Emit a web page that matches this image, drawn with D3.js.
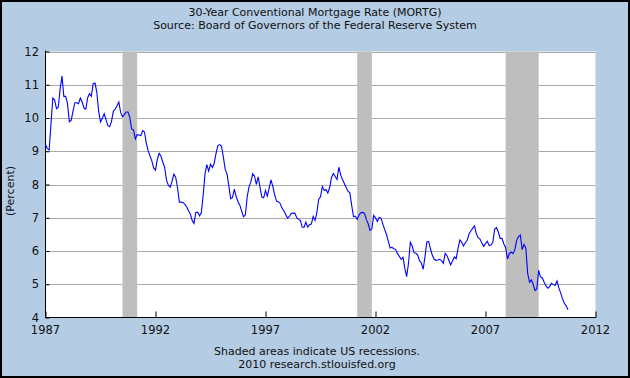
<!DOCTYPE html>
<html><head><meta charset="utf-8">
<script src="https://cdn.jsdelivr.net/npm/d3@7"></script>
<style>body{margin:0;padding:0;background:#fff}svg{display:block}text{font-family:"DejaVu Sans",Verdana,sans-serif;fill:#111}</style>
</head><body>
<svg id="c" width="630" height="378"></svg>
<script>
const title = "30-Year Conventional Mortgage Rate (MORTG)";
const subtitle = "Source: Board of Governors of the Federal Reserve System";
const footer1 = "Shaded areas indicate US recessions.";
const footer2 = "2010 research.stlouisfed.org";
const yLabel = "(Percent)";
const startYear = 1987;
const yTicks = [4,5,6,7,8,9,10,11,12];
const xTicks = [1987,1992,1997,2002,2007,2012];
const recessions = [[1990.5,1991.167],[2001.167,2001.833],[2007.917,2009.417]];
// monthly values Jan 1987 .. Oct 2010
const rates = [
 9.20,9.08,9.04,9.83,10.60,10.54,10.28,10.33,10.89,11.26,10.65,10.65,
 10.43,9.89,9.93,10.20,10.46,10.46,10.43,10.60,10.48,10.30,10.27,10.61,
 10.73,10.65,11.03,11.05,10.77,10.20,9.88,9.99,10.13,9.95,9.77,9.74,
 9.90,10.20,10.27,10.37,10.48,10.16,10.04,10.10,10.18,10.18,10.01,9.67,
 9.64,9.37,9.50,9.49,9.47,9.62,9.58,9.24,9.01,8.86,8.71,8.50,
 8.43,8.76,8.94,8.85,8.67,8.51,8.13,7.98,7.92,8.09,8.31,8.22,
 7.91,7.47,7.47,7.46,7.40,7.33,7.21,7.11,6.92,6.83,7.16,7.17,
 7.06,7.15,7.68,8.32,8.60,8.40,8.61,8.51,8.64,8.93,9.17,9.20,
 9.15,8.83,8.46,8.32,7.96,7.57,7.61,7.86,7.64,7.48,7.38,7.20,
 7.03,7.08,7.62,7.93,8.07,8.32,8.25,8.00,8.23,7.92,7.62,7.60,
 7.82,7.65,7.90,8.14,7.94,7.69,7.50,7.48,7.43,7.29,7.21,7.10,
 6.99,7.04,7.13,7.14,7.14,7.00,6.95,6.92,6.72,6.71,6.87,6.72,
 6.79,6.81,7.04,6.92,7.15,7.55,7.63,7.94,7.82,7.85,7.74,7.91,
 8.21,8.33,8.24,8.15,8.52,8.29,8.15,8.03,7.91,7.80,7.75,7.38,
 7.03,7.05,6.95,7.08,7.15,7.16,7.13,6.95,6.82,6.62,6.66,7.07,
 7.00,6.89,7.01,6.99,6.81,6.65,6.49,6.29,6.09,6.11,6.07,6.05,
 5.92,5.84,5.75,5.81,5.48,5.23,5.63,6.26,6.15,5.95,5.93,5.88,
 5.71,5.64,5.45,5.83,6.27,6.29,6.06,5.87,5.75,5.72,5.73,5.75,
 5.71,5.63,5.93,5.86,5.72,5.58,5.70,5.82,5.77,6.07,6.33,6.27,
 6.15,6.25,6.32,6.51,6.60,6.68,6.76,6.52,6.40,6.36,6.24,6.14,
 6.22,6.29,6.16,6.18,6.26,6.66,6.70,6.57,6.38,6.38,6.21,6.10,
 5.76,5.92,5.97,5.92,6.04,6.32,6.43,6.48,6.04,6.20,6.09,5.33,
 5.06,5.13,5.00,4.81,4.86,5.42,5.22,5.19,5.06,4.95,4.88,4.93,
 5.03,4.99,4.97,5.10,4.89,4.74,4.56,4.43,4.35,4.23
];

const svg = d3.select("#c");
const W = 630, H = 378;
const L = 45.5, R = 595.5, T = 51.5, B = 317.5;
svg.append("rect").attr("x",0).attr("y",0).attr("width",W).attr("height",H).attr("fill","#b4cce4");
svg.append("rect").attr("x",1).attr("y",1).attr("width",W-2).attr("height",H-2).attr("fill","none").attr("stroke","#000").attr("stroke-width",2);

const x = d3.scaleLinear().domain([1987,2012]).range([L,R]);
const y = d3.scaleLinear().domain([4,12]).range([B,T]);

svg.append("rect").attr("x",L).attr("y",T).attr("width",R-L).attr("height",B-T).attr("fill","#fff");
svg.selectAll(".rec").data(recessions).enter().append("rect")
  .attr("x",d=>x(d[0])).attr("y",T).attr("width",d=>x(d[1])-x(d[0])).attr("height",B-T).attr("fill","#bebebe");

// gridlines (skip where recession bars)
const gridG = svg.append("g");
yTicks.filter(v=>v>4).forEach(v=>{
  let segs=[]; let s=L;
  recessions.forEach(r=>{segs.push([s,x(r[0])]); s=x(r[1]);});
  segs.push([s,R]);
  segs.forEach(sg=>gridG.append("line").attr("x1",sg[0]).attr("x2",sg[1]).attr("y1",Math.round(y(v))+0.5).attr("y2",Math.round(y(v))+0.5).attr("stroke","#aaaaaa").attr("stroke-width",1));
});

// axes
const yAxis = d3.axisRight(y).tickValues(yTicks).tickSize(4).tickFormat("");
svg.append("g").attr("transform",`translate(${L},0)`).call(yAxis).call(g=>{g.select(".domain").remove();g.selectAll("line").attr("stroke","#000");});
svg.append("line").attr("x1",L).attr("x2",L).attr("y1",T-1).attr("y2",B).attr("stroke","#000");
svg.selectAll(".yl").data(yTicks).enter().append("text").attr("x",39).attr("y",d=>y(d)+4).attr("text-anchor","end").attr("font-size","11.5px").text(d=>d);

const xAxis = d3.axisTop(x).tickValues(xTicks).tickSize(6).tickFormat("");
svg.append("g").attr("transform",`translate(0,${B})`).call(xAxis).call(g=>{g.select(".domain").remove();g.selectAll("line").attr("stroke","#000");});
svg.append("line").attr("x1",L).attr("x2",R+0.5).attr("y1",B).attr("y2",B).attr("stroke","#000");
svg.selectAll(".xl").data(xTicks).enter().append("text").attr("x",d=>x(d)).attr("y",334).attr("text-anchor","middle").attr("font-size","11.5px").text(d=>d);

// line
const line = d3.line().x((d,i)=>x(startYear+i/12)).y(d=>y(d));
svg.append("path").datum(rates).attr("d",line).attr("fill","none").attr("stroke","#0000ff").attr("stroke-width",1.1);

// texts
svg.append("text").attr("x",315).attr("y",16).attr("text-anchor","middle").attr("font-size","11px").text(title);
svg.append("text").attr("x",315).attr("y",29).attr("text-anchor","middle").attr("font-size","11px").text(subtitle);
svg.append("text").attr("x",317).attr("y",355).attr("text-anchor","middle").attr("font-size","11px").text(footer1);
svg.append("text").attr("x",317).attr("y",368).attr("text-anchor","middle").attr("font-size","11px").text(footer2);
svg.append("text").attr("transform","translate(14,191) rotate(-90)").attr("text-anchor","middle").attr("font-size","11px").text(yLabel);
</script>
</body></html>
